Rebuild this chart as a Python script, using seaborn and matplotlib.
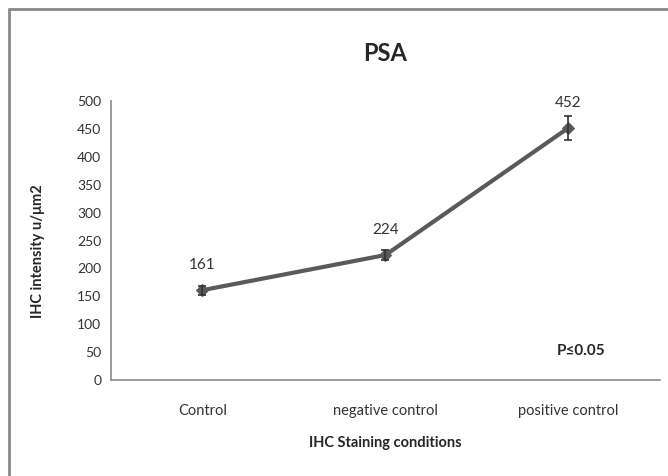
import matplotlib
matplotlib.use("Agg")
import matplotlib.pyplot as plt
import seaborn as sns
import pandas as pd

# data
conditions = ["Control", "negative control", "positive control"]
intensity = [161, 224, 452]
errors = [8, 9, 22]

df = pd.DataFrame({"cond": conditions, "val": intensity})

sns.set_theme(style="white")
plt.rcParams['font.family'] = ['Lato', 'DejaVu Sans']

fig = plt.figure(figsize=(6.68, 4.76), dpi=100)
ax = fig.add_axes([0.166, 0.2017, 0.822, 0.586])

line_col = "#5a5a5a"
sns.lineplot(data=df, x="cond", y="val", ax=ax, color=line_col, linewidth=3,
             marker="D", markersize=6, markeredgecolor=line_col, sort=False)
ax.errorbar(range(len(conditions)), intensity, yerr=errors, fmt="none",
            ecolor="#333333", elinewidth=1.2, capsize=3, capthick=1.2)

for i, v in enumerate(intensity):
    ax.text(i, v + 45, str(v), ha="center", va="center", fontsize=11, color="#333333")

ax.set_xlim(-0.5, 2.5)
ax.set_ylim(0, 500)
ax.set_yticks(range(0, 501, 50))
ax.tick_params(axis="y", length=3, color="#888888", labelsize=10, labelcolor="#333333", pad=4)
ax.tick_params(axis="x", length=0, labelsize=10.5, labelcolor="#333333", pad=17)
for s in ["top", "right"]:
    ax.spines[s].set_visible(False)
for s in ["left", "bottom"]:
    ax.spines[s].set_color("#8a8a8a")
    ax.spines[s].set_linewidth(1.2)

ax.set_xlabel("IHC Staining conditions", fontsize=10.5, fontweight="bold", labelpad=13)
ax.set_ylabel("IHC intensity u/μm2", fontsize=10.5, fontweight="bold", labelpad=20)
ax.yaxis.set_label_coords(-0.12, 0.46)
ax.text(0.5, 1.17, "PSA", transform=ax.transAxes, ha="center", va="center",
        fontsize=17, fontweight="bold")
ax.text(2.07, 52, "P≤0.05", ha="center", va="center", fontsize=11, fontweight="bold")

# outer frame lines (left and top edges visible)
fig.add_artist(plt.Line2D([9 / 668, 9 / 668], [0, 1 - 9 / 476], transform=fig.transFigure,
                          color="#8a8a8a", linewidth=2))
fig.add_artist(plt.Line2D([9 / 668, 1], [1 - 9 / 476, 1 - 9 / 476], transform=fig.transFigure,
                          color="#8a8a8a", linewidth=2))

fig.savefig("out.png", dpi=100)
